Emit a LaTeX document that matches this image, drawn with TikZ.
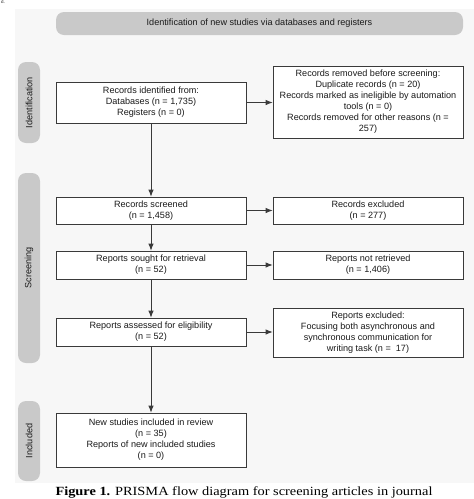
\documentclass[tikz,border=0pt]{standalone}
\usepackage{fontspec}
\setmainfont{Liberation Serif}
\newfontfamily\diagfont{Liberation Sans}
\usetikzlibrary{arrows.meta}
\definecolor{panelbg}{HTML}{F7F7F7}
\definecolor{bandgray}{HTML}{C9C9C9}
\definecolor{boxline}{HTML}{3A3A3A}
\definecolor{txtc}{HTML}{1A1A1A}
\begin{document}
\begin{tikzpicture}[x=1pt,y=-1pt,
  every node/.style={font=\diagfont\fontsize{9.1}{11}\selectfont, text=txtc},
  flowbox/.style={draw=boxline, line width=0.8pt, fill=white, align=center, inner sep=1pt},
  band/.style={fill=bandgray, rounded corners=8pt, align=center},
  flowarrow/.style={draw=boxline, line width=0.8pt, -{Latex[length=7pt,width=5.5pt]}}]
\useasboundingbox (0,0) rectangle (474,499);
\fill[white] (0,0) rectangle (474,499);
\fill[panelbg] (15,9) rectangle (474,483);
\node[font=\fontsize{5}{6}\selectfont] (frag) at (3,1.5) {d.};
% banner and side bands
\node[band, minimum width=407pt, minimum height=23pt] (banner) at (259.5,23.5) {Identification of new studies via databases and registers};
\node[band, minimum width=81pt, minimum height=22pt, rotate=90] (sideid) at (29,102.5) {Identification};
\node[band, minimum width=190pt, minimum height=22pt, rotate=90] (sidescr) at (29,268) {Screening};
\node[band, minimum width=80pt, minimum height=22pt, rotate=90] (sideinc) at (29,441) {Included};
% left column
\node[flowbox, minimum width=190pt, minimum height=41pt] (ident) at (151,102.5) {Records identified from:\\Databases (n = 1,735)\\Registers (n = 0)};
\node[flowbox, minimum width=190pt, minimum height=27pt] (screened) at (151,210.5) {Records screened\\(n = 1,458)};
\node[flowbox, minimum width=190pt, minimum height=28pt] (sought) at (151,265) {Reports sought for retrieval\\(n = 52)};
\node[flowbox, minimum width=190pt, minimum height=28pt] (assessed) at (151,332) {Reports assessed for eligibility\\(n = 52)};
\node[flowbox, minimum width=190pt, minimum height=54pt] (included) at (151,440) {New studies included in review\\(n = 35)\\Reports of new included studies\\(n = 0)};
% right column
\node[flowbox, minimum width=190pt, minimum height=72pt] (removed) at (368,102) {Records removed before screening:\\Duplicate records (n = 20)\\Records marked as ineligible by automation\\tools (n = 0)\\Records removed for other reasons (n =\\257)};
\node[flowbox, minimum width=190pt, minimum height=27pt] (excluded) at (368,210.5) {Records excluded\\(n = 277)};
\node[flowbox, minimum width=190pt, minimum height=28pt] (notretr) at (368,265) {Reports not retrieved\\(n = 1,406)};
\node[flowbox, minimum width=190pt, minimum height=49pt] (repexcl) at (368,332.5) {Reports excluded:\\Focusing both asynchronous and\\synchronous communication for\\writing task (n =\ \ 17)};
% connectors
\draw[flowarrow] (ident) -- (screened);
\draw[flowarrow] (screened) -- (sought);
\draw[flowarrow] (sought) -- (assessed);
\draw[flowarrow] (assessed) -- (included);
\draw[flowarrow] (ident.east) -- (ident.east -| removed.west);
\draw[flowarrow] (screened) -- (excluded);
\draw[flowarrow] (sought) -- (notretr);
\draw[flowarrow] (assessed.east) -- (assessed.east -| repexcl.west);
% caption
\node[font=\rmfamily\fontsize{12.5}{13}\selectfont, text=black] (caption) at (244,492) {\scalebox{1.15}[1]{\textbf{Figure 1.} PRISMA flow diagram for screening articles in journal}};
\end{tikzpicture}
\end{document}
